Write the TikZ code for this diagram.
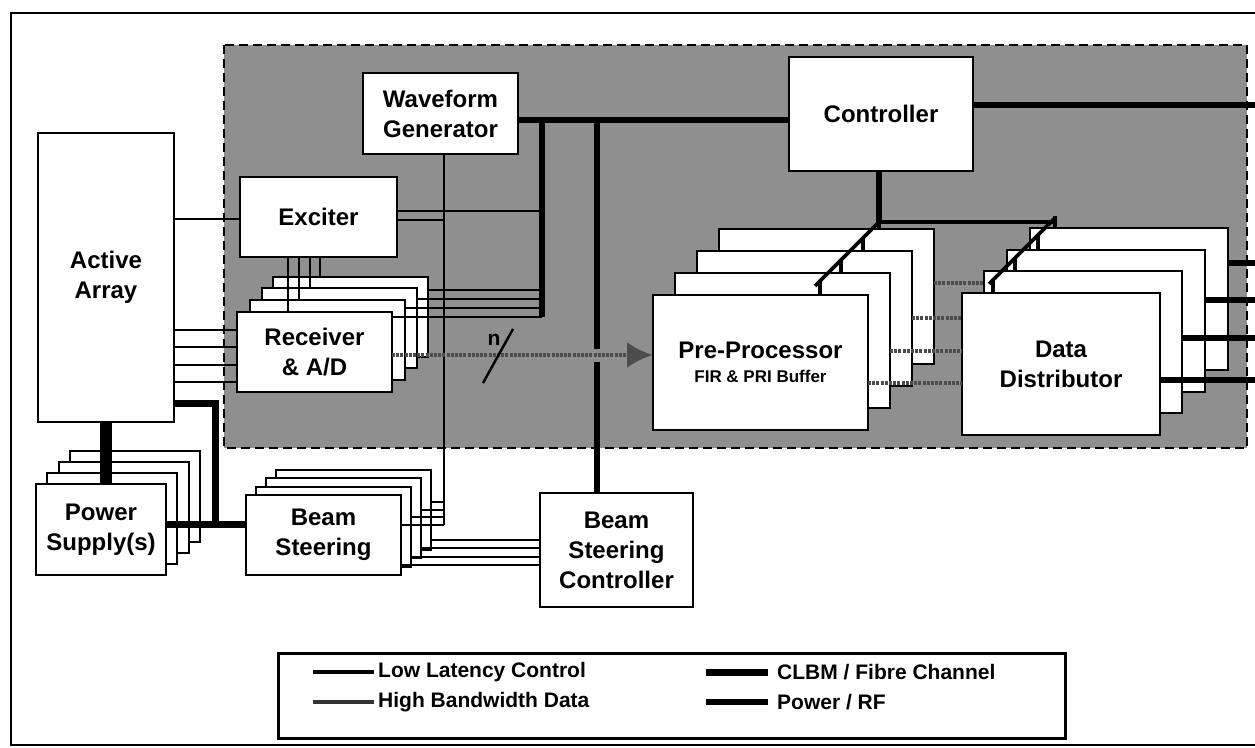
\documentclass[tikz,border=0pt]{standalone}
\usepackage{fontspec}
\setmainfont{Liberation Sans}
\usetikzlibrary{arrows.meta}
\begin{document}
\begin{tikzpicture}[x=1pt,y=-1pt,
  box/.style={draw=black,line width=2.8pt,fill=white,inner sep=0pt,outer sep=0pt,anchor=north west,align=center,font=\bfseries\fontsize{24}{30}\selectfont},
  thinln/.style={line width=1.8pt},
  lowlat/.style={line width=3.6pt},
  busln/.style={line width=6pt},
  powerln/.style={line width=7pt},
  heavyln/.style={line width=12pt},
  hbd/.style={line width=4.5pt,draw=black!70,dash pattern=on 3pt off 1.2pt},
  lgtext/.style={anchor=west,font=\bfseries\fontsize{21}{24}\selectfont,inner sep=0pt}]
\useasboundingbox (0,0) rectangle (1255,747);
\fill[white] (0,0) rectangle (1255,747);
\draw[line width=2.5pt] (11,13) rectangle (1275,745);
% shaded processing region
\fill[black!44] (224,45) rectangle (1247,448);
\draw[line width=2.7pt,dash pattern=on 9pt off 5pt] (224,45) rectangle (1247,448);

% single boxes
\node[box,minimum width=136pt,minimum height=289pt] (aa) at (38,133) {Active\\Array};
\node[box,minimum width=157pt,minimum height=80pt] (exc) at (240,177) {Exciter};
\node[box,minimum width=155pt,minimum height=81pt] (wg) at (363,73) {Waveform\\Generator};
\node[box,minimum width=184pt,minimum height=114pt] (ctl) at (789,57) {Controller};
\node[box,minimum width=153pt,minimum height=114pt] (bsc) at (540,493) {Beam\\Steering\\Controller};

% receiver stack
\node[box,minimum width=155pt,minimum height=80pt] (rx4) at (273,277) {};
\node[box,minimum width=155pt,minimum height=80pt] (rx3) at (262,288) {};
\node[box,minimum width=155pt,minimum height=80pt] (rx2) at (250,300) {};
\node[box,minimum width=155pt,minimum height=80pt] (rx1) at (237,312) {Receiver\\\& A/D};

% pre-processor stack
\node[box,minimum width=215pt,minimum height=135pt] (pp4) at (719,229) {};
\node[box,minimum width=215pt,minimum height=135pt] (pp3) at (697,251) {};
\node[box,minimum width=215pt,minimum height=135pt] (pp2) at (675,273) {};
\node[box,minimum width=215pt,minimum height=135pt] (pp1) at (653,295) {Pre-Processor\\[-6pt]{\fontsize{17}{20}\selectfont FIR \& PRI Buffer}};

% data distributor stack
\node[box,minimum width=198pt,minimum height=142pt] (dd4) at (1030,228) {};
\node[box,minimum width=198pt,minimum height=142pt] (dd3) at (1007,250) {};
\node[box,minimum width=198pt,minimum height=142pt] (dd2) at (984,271) {};
\node[box,minimum width=198pt,minimum height=142pt] (dd1) at (962,293) {Data\\Distributor};

% power supply stack
\node[box,minimum width=130pt,minimum height=91pt] (ps4) at (70,451) {};
\node[box,minimum width=130pt,minimum height=91pt] (ps3) at (59,462) {};
\node[box,minimum width=130pt,minimum height=91pt] (ps2) at (47,473) {};
\node[box,minimum width=130pt,minimum height=91pt] (ps1) at (36,484) {Power\\Supply(s)};

% beam steering stack
\node[box,minimum width=155pt,minimum height=80pt] (bs4) at (276,470) {};
\node[box,minimum width=155pt,minimum height=80pt] (bs3) at (266,478) {};
\node[box,minimum width=155pt,minimum height=80pt] (bs2) at (256,487) {};
\node[box,minimum width=155pt,minimum height=80pt] (bs1) at (246,495) {Beam\\Steering};

% ---- connectors ----
% CLBM buses
\draw[busln] (wg.east |- 0,120) -- (ctl.west |- 0,120);
\draw[busln] (ctl.east |- 0,105) -- (1262,105);
\draw[busln] (542,117) -- (542,317);
\draw[busln] (597,117) -- (597,349);
\draw[busln] (597,362) -- (bsc.north -| 597,0);
\draw[busln] (ctl.south -| 879,0) -- (879,222);
\draw[busln] (dd4.east |- 0,263) -- (1262,263);
\draw[busln] (dd3.east |- 0,300) -- (1262,300);
\draw[busln] (dd2.east |- 0,338) -- (1262,338);
\draw[busln] (dd1.east |- 0,380) -- (1262,380);

% controller low latency distribution
\draw[lowlat] (879,222) -- (1055,222);
\draw[lowlat] (1055,216) -- (dd4.north -| 1055,0);
\draw[lowlat] (879,222) -- (815,286);
\draw[lowlat] (879,222) -- (pp4.north -| 879,0);
\draw[lowlat] (863,238) -- (pp3.north -| 863,0);
\draw[lowlat] (841,260) -- (pp2.north -| 841,0);
\draw[lowlat] (820,281) -- (pp1.north -| 820,0);
\draw[lowlat] (1055,218) -- (989,284);
\draw[lowlat] (1038,235) -- (dd3.north -| 1038,0);
\draw[lowlat] (1015,258) -- (dd2.north -| 1015,0);
\draw[lowlat] (993,280) -- (dd1.north -| 993,0);

% high bandwidth data between pre-processors and distributors
\draw[hbd] (pp4.east |- 0,283) -- (dd2.west |- 0,283);
\draw[hbd] (pp3.east |- 0,318) -- (dd1.west |- 0,318);
\draw[hbd] (pp2.east |- 0,351) -- (dd1.west |- 0,351);
\draw[hbd] (pp1.east |- 0,383) -- (dd1.west |- 0,383);

% exciter / waveform generator signals
\draw[thinln] (aa.east |- 0,219) -- (exc.west |- 0,219);
\draw[thinln] (exc.east |- 0,211) -- (542,211);
\draw[thinln] (exc.east |- 0,220) -- (444,220);
\draw[thinln] (wg.south -| 444,0) -- (444,525);
\draw[thinln] (exc.south -| 288,0) -- (rx1.north -| 288,0);
\draw[thinln] (exc.south -| 299,0) -- (rx2.north -| 299,0);
\draw[thinln] (exc.south -| 310,0) -- (rx3.north -| 310,0);
\draw[thinln] (exc.south -| 320,0) -- (rx4.north -| 320,0);
\draw[thinln] (rx4.east |- 0,290) -- (542,290);
\draw[thinln] (rx3.east |- 0,299) -- (542,299);
\draw[thinln] (rx2.east |- 0,308) -- (542,308);
\draw[thinln] (rx1.east |- 0,317) -- (542,317);
\foreach \yy in {330,347,365,382}
  \draw[thinln] (aa.east |- 0,\yy) -- (rx1.west |- 0,\yy);

% beam steering bus
\draw[thinln] (bs4.east |- 0,502) -- (444,502);
\draw[thinln] (bs3.east |- 0,510) -- (444,510);
\draw[thinln] (bs2.east |- 0,517) -- (444,517);
\draw[thinln] (bs1.east |- 0,525) -- (444,525);
\draw[thinln] (bs4.east |- 0,540) -- (bsc.west |- 0,540);
\draw[thinln] (bs3.east |- 0,548) -- (bsc.west |- 0,548);
\draw[thinln] (bs2.east |- 0,557) -- (bsc.west |- 0,557);
\draw[thinln] (bs1.east |- 0,565) -- (bsc.west |- 0,565);

% power / RF
\draw[heavyln] (aa.south -| 106,0) -- (ps4.north -| 106,0) -- (ps1.north -| 106,0);
\draw[powerln] (aa.east |- 0,403) -- (215,403) -- (215,524);
\draw[powerln] (ps1.east |- 0,524) -- (bs1.west |- 0,524);

% high bandwidth data: receivers to pre-processor
\draw[hbd,-{Latex[length=26pt,width=26pt]}] (rx1.east |- 0,355) -- (pp1.west |- 0,355);
\draw[line width=2.4pt] (513,329) -- (483,383);
\node[font=\bfseries\fontsize{21}{24}\selectfont,inner sep=0pt] (nlab) at (494,340) {n};

% legend
\node[draw,line width=2.8pt,minimum width=787pt,minimum height=85pt,anchor=north west,inner sep=0pt] (leg) at (277,652) {};
\coordinate (l1a) at (313,672); \coordinate (l1b) at (374,672);
\coordinate (l2a) at (313,702); \coordinate (l2b) at (374,702);
\coordinate (l3a) at (706,672); \coordinate (l3b) at (768,672);
\coordinate (l4a) at (706,702); \coordinate (l4b) at (768,702);
\draw[line width=4pt] (l1a) -- (l1b);
\draw[line width=4.5pt,black!80] (l2a) -- (l2b);
\draw[line width=7pt] (l3a) -- (l3b);
\draw[line width=6pt] (l4a) -- (l4b);
\node[lgtext] (t1) at (378,672) {Low Latency Control};
\node[lgtext] (t2) at (378,702) {High Bandwidth Data};
\node[lgtext] (t3) at (777,672) {CLBM / Fibre Channel};
\node[lgtext] (t4) at (777,702) {Power / RF};
\end{tikzpicture}
\end{document}
